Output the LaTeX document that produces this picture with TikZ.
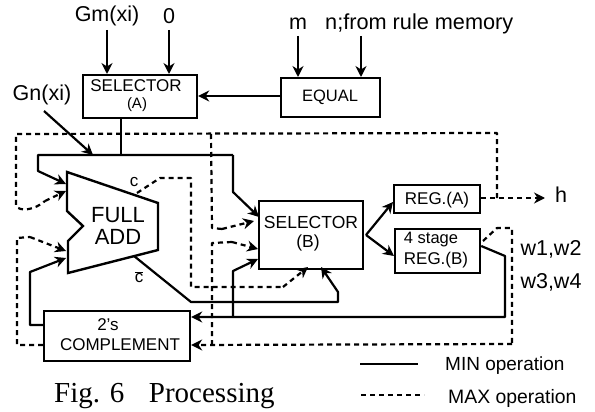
\documentclass[tikz,border=0pt]{standalone}
\usepackage{fontspec}
\setmainfont{Liberation Sans}
\newfontfamily\capfont{Liberation Serif}
\usetikzlibrary{arrows.meta,calc}
\tikzset{
  x=1pt,y=-1pt,
  box/.style={draw,line width=2.2pt,inner sep=0pt,align=center,anchor=north west},
  lab/.style={inner sep=0pt,font=\fontsize{21.5}{23}\selectfont},
  small/.style={inner sep=0pt,font=\fontsize{17}{18}\selectfont},
  sol/.style={line width=2.2pt,line join=round},
  das/.style={line width=2.2pt,dash pattern=on 5pt off 4pt,line join=round},
  tip/.style={-{Stealth[length=11pt,width=11pt]}},
}
\begin{document}
\begin{tikzpicture}
\useasboundingbox (0,0) rectangle (595,412);
% boxes
\node[box,minimum width=114pt,minimum height=43pt] (sela) at (82,74) {};
\node[small] (selat) at (136,86) {SELECTOR};
\node[small,font=\fontsize{15}{16}\selectfont] (selat2) at (137,105) {(A)};
\node[box,minimum width=99pt,minimum height=39pt] (eq) at (280,77) {};
\node[small,font=\fontsize{16.5}{18}\selectfont] (eqt) at (330,97) {EQUAL};
\node[box,minimum width=104pt,minimum height=68pt] (selb) at (258,200) {};
\node[small,font=\fontsize{17.5}{19}\selectfont] (selbt) at (311,222) {SELECTOR};
\node[small,font=\fontsize{17.5}{19}\selectfont] (selbt2) at (308,243) {(B)};
\node[box,minimum width=86pt,minimum height=28pt] (rega) at (393,184) {};
\node[small] (regat) at (437,200) {REG.(A)};
\node[box,minimum width=85pt,minimum height=44pt] (regb) at (394,228) {};
\node[small,font=\fontsize{16.5}{18}\selectfont] (regbt) at (431,240) {4 stage};
\node[small] (regbt2) at (436,260) {REG.(B)};
\node[box,minimum width=146pt,minimum height=50pt] (comp) at (43,310) {};
\node[small] (compt) at (108,325) {2's};
\node[small] (compt2) at (120,345) {COMPLEMENT};
% full adder
\draw[line width=2.4pt,line join=miter] (67,172) -- (158,203) -- (158,250) -- (68,273) -- (68,241) -- (83,226) -- (67,211) -- cycle;
\node[lab,font=\fontsize{22}{24}\selectfont] (full) at (118,215) {FULL};
\node[lab,font=\fontsize{22}{24}\selectfont] (addt) at (118,237) {ADD};
% labels
\node[lab] (gm) at (107,16) {Gm(xi)};
\node[lab] (zero) at (169,16) {0};
\node[lab,anchor=base] (m) at (298,30) {m};
\node[lab,anchor=base west,font=\fontsize{21.7}{23}\selectfont] (n) at (325,30) {n;from rule memory};
\node[lab] (gn) at (42,95) {Gn(xi)};
\node[small] (c) at (134,182) {c};
\node[small] (cb) at (139,277) {$\overline{\mbox{c}}$};
\node[lab] (h) at (561,195) {h};
\node[lab] (w1) at (551,249) {w1,w2};
\node[lab] (w3) at (551,282) {w3,w4};
\node[small,anchor=west,font=\fontsize{19}{20}\selectfont] (minl) at (445,366) {MIN operation};
\node[small,anchor=west,font=\fontsize{19.4}{21}\selectfont] (maxl) at (448,398) {MAX operation};
\node[anchor=west,inner sep=0pt,font=\capfont\fontsize{29}{31}\selectfont] (figc) at (54,396) {Fig. 6\hspace{0.85em}Processing};
% free ends
\coordinate (gmT) at (107,30);
\coordinate (zeroT) at (169,30);
\coordinate (mT) at (298,36);
\coordinate (nT) at (361,36);
\coordinate (gnT) at (44,111);
\coordinate (busL) at (38,155);
\coordinate (busJ) at (93,155);
\coordinate (busS) at (121,155);
\coordinate (busR) at (233,155);
\coordinate (fork) at (366,235);
% top inputs
\draw[sol,tip] (gmT) -- (gmT |- sela.north);
\draw[sol,tip] (zeroT) -- (zeroT |- sela.north);
\draw[sol,tip] (mT) -- (mT |- eq.north);
\draw[sol,tip] (nT) -- (nT |- eq.north);
\draw[sol,tip] (eq.west |- 0,96) -- (sela.east |- 0,96);
\draw[sol] (busS |- sela.south) -- (busS);
\draw[sol,tip] (gnT) -- (busJ);
% min bus
\draw[sol,tip] (busR) -- (busL) -- (38,171) -- (66,184);
\draw[sol,tip] (busR) -- (233,192) -- (259,217);
% fork to registers
\draw[sol,tip] (fork) -- (rega.west |- 0,202);
\draw[sol,tip] (fork) -- (regb.west |- 0,256);
% reg b min feedback
\draw[sol,tip] (regb.east |- 0,246) -- (505,256) -- (505,317) -- (comp.east |- 0,317);
\draw[sol,tip] (233,317) -- (233,271) -- (258,259);
% c-bar
\draw[sol,tip] (134,256) -- (191,302) -- (338,302) -- (338,292) -- (321,267);
% comp to adder
\draw[sol,tip] (comp.west |- 0,325) -- (30,325) -- (30,272) -- (66,258);
% dashed
\draw[das,tip] (rega.east |- 0,198) -- (545,198);
\draw[das] (497,198) -- (497,133) -- (16,134) -- (16,206) .. controls (20,212) and (35,210) .. (45,201);
\draw[das,tip] (45,201) -- (66,191);
\draw[das] (211,134) -- (212,228) -- (222,229);
\draw[das,tip] (222,229) -- (254,221);
\draw[das] (483,241) -- (497,228) -- (512,228) -- (512,344);
\draw[das,tip] (512,344) -- (comp.east |- 0,345);
\draw[das] (212,345) -- (212,243) -- (232,242);
\draw[das,tip] (232,242) -- (258,249);
\draw[das] (comp.west |- 0,345) -- (17,345) -- (17,238) -- (30,237);
\draw[das,tip] (30,237) -- (66,251);
\draw[das] (137,193) -- (160,178) -- (191,178) -- (191,287) -- (283,287);
\draw[das,tip] (283,287) -- (308,267);
% legend
\coordinate (minA) at (360,364);
\coordinate (minB) at (418,364);
\coordinate (maxA) at (361,395);
\coordinate (maxB) at (424,395);
\draw[sol] (minA) -- (minB);
\draw[das] (maxA) -- (maxB);
\end{tikzpicture}
\end{document}
